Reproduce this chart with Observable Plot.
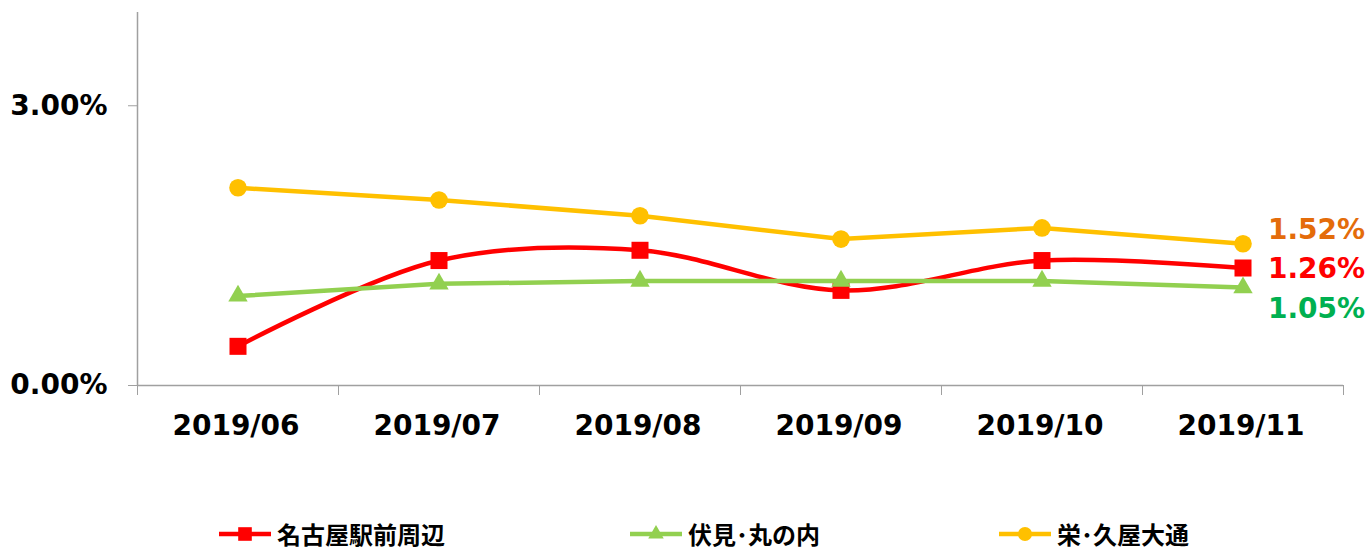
<!DOCTYPE html>
<html>
<head>
<meta charset="utf-8">
<script src="https://cdn.jsdelivr.net/npm/d3@7"></script>
<script src="https://cdn.jsdelivr.net/npm/@observablehq/plot@0.6"></script>
<style>
  html, body { margin: 0; padding: 0; background: #fff; overflow: hidden; }
  #chart { width: 1368px; }
  #legend { position: relative; height: 51px; width: 1368px; font-family: "Noto Sans CJK JP", sans-serif; font-weight: bold; font-size: 24px; }
  .item { position: absolute; top: 18px; display: flex; align-items: center; height: 32px; line-height: 32px; }
  .item svg { margin-right: 6px; }
</style>
</head>
<body>
<div id="chart"></div>
<div id="legend"></div>
<script>
const months = ["2019/06", "2019/07", "2019/08", "2019/09", "2019/10", "2019/11"];
const nagoya = [0.42, 1.34, 1.45, 1.02, 1.34, 1.26];
const fushimi = [0.96, 1.09, 1.12, 1.12, 1.12, 1.05];
const sakae = [2.12, 1.99, 1.82, 1.57, 1.69, 1.52];
const seriesNames = ["名古屋駅前周辺", "伏見･丸の内", "栄･久屋大通"];
const seriesColors = ["#FF0000", "#92D050", "#FFC000"];
const labelColors = ["#FF0000", "#00B050", "#E46C0A"];
const symbols = ["square", "triangle", "circle"];
const yTicks = [0, 3];

const seriesValues = [nagoya, fushimi, sakae];
const series = seriesNames.map((name, k) => ({
  name, color: seriesColors[k], labelColor: labelColors[k], symbol: symbols[k],
  data: months.map((m, i) => ({ i, v: seriesValues[k][i] }))
}));
const labelDy = [1, 21, -14];
const symR = [9.6, 7.2, 8.8];

const marks = [];
marks.push(Plot.axisY({ ticks: yTicks, tickSize: 9, tickPadding: 21, stroke: "#A0A0A0", fill: "#000", label: null,
  tickFormat: d => d.toFixed(2) + "%", fontSize: 28, fontWeight: "bold" }));
marks.push(Plot.axisX({ ticks: d3.range(months.length + 1).map(k => k - 0.5), tickSize: 10, stroke: "#A0A0A0", label: null,
  tickFormat: () => "" }));
marks.push(Plot.axisX({ ticks: d3.range(months.length), tickSize: 0, tickPadding: 30, fill: "#000", label: null,
  tickFormat: i => months[i], fontSize: 28, fontWeight: "bold", dx: -2 }));
marks.push(Plot.ruleY([0], { stroke: "#A0A0A0", strokeWidth: 1.5 }));
marks.push(Plot.ruleX([-0.5], { stroke: "#A0A0A0", strokeWidth: 1.5 }));
series.forEach((s, k) => {
  marks.push(Plot.line(s.data, { x: "i", y: "v", stroke: s.color, strokeWidth: 4.5,
    curve: k === 0 ? "catmull-rom" : "linear" }));
  marks.push(Plot.dot(s.data, { x: "i", y: "v", symbol: s.symbol, fill: s.color, r: symR[k] }));
});
series.forEach((s, k) => {
  const last = s.data[s.data.length - 1];
  marks.push(Plot.text([last], { x: "i", y: "v", text: d => d.v.toFixed(2) + "%", fill: s.labelColor,
    textAnchor: "start", dx: 25, dy: labelDy[k], fontSize: 28, fontWeight: "bold" }));
});

const chart = Plot.plot({
  width: 1368, height: 500,
  marginLeft: 137, marginRight: 25, marginTop: 12, marginBottom: 115,
  x: { type: "linear", domain: [-0.5, months.length - 0.5], label: null },
  y: { domain: [0, 4], label: null },
  style: { fontFamily: "DejaVu Sans, sans-serif", fontSize: "28px", fontWeight: "bold", overflow: "visible", background: "#fff" },
  marks
});
document.getElementById("chart").appendChild(chart);

const legend = document.getElementById("legend");
const lefts = [219, 630, 999];
series.forEach((s, k) => {
  const item = document.createElement("div");
  item.className = "item";
  item.style.left = lefts[k] + "px";
  const ns = "http://www.w3.org/2000/svg";
  const sw = document.createElementNS(ns, "svg");
  sw.setAttribute("width", 52); sw.setAttribute("height", 24);
  const ln = document.createElementNS(ns, "line");
  ln.setAttribute("x1", 0); ln.setAttribute("x2", 52); ln.setAttribute("y1", 12); ln.setAttribute("y2", 12);
  ln.setAttribute("stroke", s.color); ln.setAttribute("stroke-width", 4.5);
  sw.appendChild(ln);
  const p = document.createElementNS(ns, "path");
  const sym = { square: d3.symbolSquare, triangle: d3.symbolTriangle, circle: d3.symbolCircle }[s.symbol];
  p.setAttribute("d", d3.symbol(sym, Math.PI * Math.pow(symR[k] * 0.8, 2))());
  p.setAttribute("transform", "translate(26,12)");
  p.setAttribute("fill", s.color);
  sw.appendChild(p);
  item.appendChild(sw);
  const t = document.createElement("span");
  t.textContent = s.name;
  item.appendChild(t);
  legend.appendChild(item);
});
</script>
</body>
</html>
